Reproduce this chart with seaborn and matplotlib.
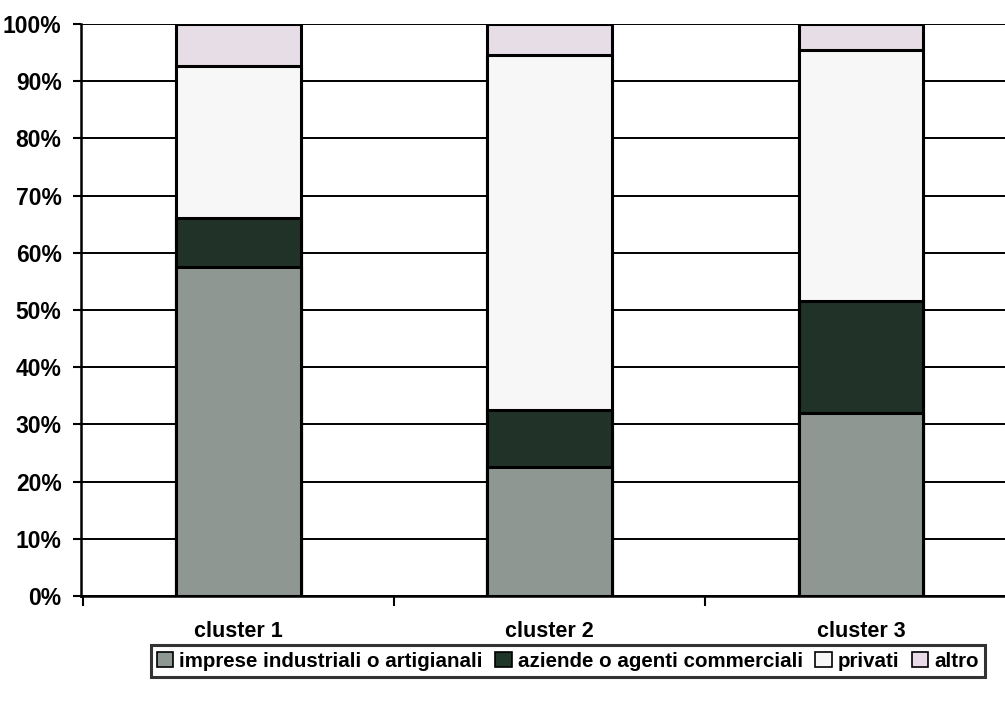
import matplotlib
matplotlib.use('Agg')
import matplotlib.pyplot as plt
import pandas as pd
import seaborn as sns
from matplotlib.patches import Patch
from matplotlib.ticker import FixedLocator

clusters = ['cluster 1', 'cluster 2', 'cluster 3']
imprese = [57.5, 22.6, 32.0]
aziende = [8.5, 9.9, 19.6]
privati = [26.7, 62.0, 43.9]
altro = [7.3, 5.5, 4.5]

series = ['imprese industriali o artigianali', 'aziende o agenti commerciali', 'privati', 'altro']
colors = ['#8e9892', '#1e3528', '#f7f7f7', '#e9dbe8']

df = pd.DataFrame({'cluster': clusters,
                   series[0]: imprese, series[1]: aziende,
                   series[2]: privati, series[3]: altro})
cum = df[series].cumsum(axis=1)

sns.set_style('white')
plt.rcParams['font.family'] = ['Liberation Sans', 'DejaVu Sans']
plt.rcParams['font.weight'] = 'bold'
plt.rcParams['text.color'] = 'black'
plt.rcParams['xtick.color'] = 'black'
plt.rcParams['ytick.color'] = 'black'

fig = plt.figure(figsize=(10.05, 7.01), dpi=100)
ax = fig.add_axes([0.0806, 0.1498, 0.9194, 0.816])

# stacked bars: draw cumulative totals from top to bottom
for name, col in reversed(list(zip(series, colors))):
    sns.barplot(x=df['cluster'], y=cum[name], color=col, width=0.4,
                edgecolor='black', linewidth=2.2, ax=ax, zorder=3)

ax.set_ylim(0, 100)
ax.set_xlim(-0.505, 2.462)
ax.set_yticks(range(0, 101, 10))
ax.set_yticklabels([f'{v}%' for v in range(0, 101, 10)], fontsize=16.5, fontweight='bold')
ax.set_xticks(range(3))
ax.set_xticklabels(clusters, fontsize=15.5, fontweight='bold')
ax.xaxis.set_minor_locator(FixedLocator([-0.5, 0.5, 1.5]))
ax.tick_params(axis='x', which='major', length=0, pad=18)
ax.tick_params(axis='x', which='minor', length=7, width=1.5, direction='out', color='black', bottom=True)
ax.tick_params(axis='y', length=6, width=1.5, direction='out', color='black', left=True, pad=8)
ax.set_xlabel('')
ax.set_ylabel('')

ax.yaxis.grid(True, color='black', linewidth=1.4)
ax.set_axisbelow(True)
for s in ['top', 'right']:
    ax.spines[s].set_visible(False)
ax.spines['left'].set_color('black')
ax.spines['left'].set_linewidth(1.8)
ax.spines['bottom'].set_color('black')
ax.spines['bottom'].set_linewidth(1.8)

handles = [Patch(facecolor=c, edgecolor='black', linewidth=1.2) for c in colors]
leg = fig.legend(handles, series, loc='center', bbox_to_anchor=(0.565, 0.057), ncol=4,
                 frameon=True, fancybox=False, edgecolor='black',
                 handlelength=0.8, handleheight=0.8, handletextpad=0.3, columnspacing=0.6,
                 borderpad=0.3, prop={'weight': 'bold', 'size': 14.8})
leg.get_frame().set_linewidth(2.2)

fig.savefig('out.png', dpi=100)
